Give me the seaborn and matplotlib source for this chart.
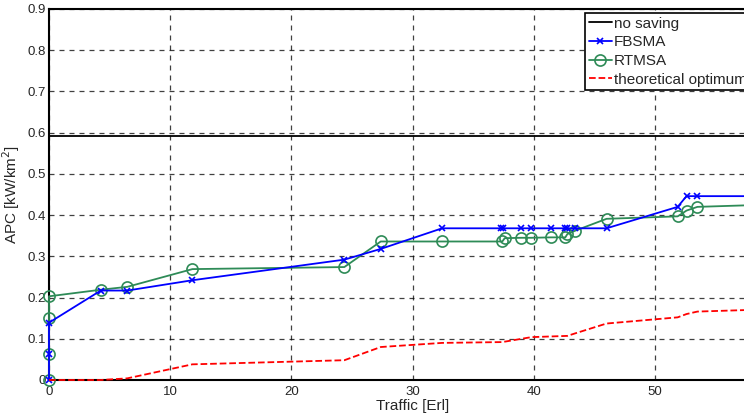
import matplotlib
matplotlib.use("Agg")
import matplotlib.pyplot as plt
import seaborn as sns
import pandas as pd

# ---- data ----
no_saving_x = [0, 60]
no_saving_y = [0.593, 0.593]

fbsma_x = [0, 0, 0, 4.27, 6.46, 11.83, 24.37, 27.37, 32.43, 37.3, 37.5, 38.94, 39.8,
           41.4, 42.6, 42.77, 43.4, 46.0, 51.87, 52.6, 53.5, 60]
fbsma_y = [0, 0.064, 0.139, 0.217, 0.217, 0.242, 0.292, 0.318, 0.368, 0.368, 0.368, 0.368, 0.368,
           0.368, 0.368, 0.368, 0.368, 0.368, 0.420, 0.446, 0.446, 0.446]

rtmsa_x = [0, 0, 0, 0, 4.27, 6.46, 11.83, 24.37, 27.37, 32.43, 37.4, 37.6, 38.94, 39.8,
           41.4, 42.6, 42.77, 43.4, 46.0, 51.87, 52.6, 53.5, 60]
rtmsa_y = [0, 0.064, 0.150, 0.203, 0.219, 0.226, 0.269, 0.274, 0.336, 0.336, 0.336, 0.344, 0.345, 0.345,
           0.346, 0.346, 0.354, 0.362, 0.391, 0.397, 0.411, 0.420, 0.426]

opt_x = [0, 4.27, 6.46, 11.83, 24.37, 27.37, 32.43, 37.4, 39.8, 42.77, 43.4, 46.0, 51.87, 52.6, 53.5, 60]
opt_y = [0, 0, 0.004, 0.038, 0.048, 0.080, 0.090, 0.092, 0.104, 0.107, 0.113, 0.137, 0.152, 0.160, 0.166, 0.172]

x_ticks = [0, 10, 20, 30, 40, 50]
y_ticks = [0, 0.1, 0.2, 0.3, 0.4, 0.5, 0.6, 0.7, 0.8, 0.9]
y_tick_labels = ["0", "0.1", "0.2", "0.3", "0.4", "0.5", "0.6", "0.7", "0.8", "0.9"]

sns.set_style("white")
plt.rcParams['font.family'] = ['Liberation Sans', 'DejaVu Sans']

fig = plt.figure(figsize=(7.44, 4.16), dpi=100)
W, H = 744, 416
left, right, top, bottom = 49, 49 + 60 * 12.12, 9, 380
ax = fig.add_axes([left / W, (H - bottom) / H, (right - left) / W, (bottom - top) / H])

def df(x, y):
    return pd.DataFrame({"x": x, "y": y})

sns.lineplot(data=df(no_saving_x, no_saving_y), x="x", y="y", ax=ax, color="black",
             lw=1.3, sort=False, estimator=None, label="no saving")
sns.lineplot(data=df(fbsma_x, fbsma_y), x="x", y="y", ax=ax, color="#0000ff",
             lw=1.3, marker="x", markersize=5, markeredgewidth=1.2, markeredgecolor="#0000ff",
             sort=False, estimator=None, label="FBSMA", clip_on=False, zorder=4)
sns.lineplot(data=df(rtmsa_x, rtmsa_y), x="x", y="y", ax=ax, color="#2e8b57",
             lw=1.3, marker="o", markersize=8, markerfacecolor="none", markeredgecolor="#2e8b57",
             markeredgewidth=1.2, sort=False, estimator=None, label="RTMSA", clip_on=False, zorder=3)
sns.lineplot(data=df(opt_x, opt_y), x="x", y="y", ax=ax, color="#ff0000",
             lw=1.3, linestyle="--", dashes=(3, 3), sort=False, estimator=None,
             label="theoretical optimum", clip_on=False, zorder=5)

ax.set_xlim(0, 60)
ax.set_ylim(0, 0.9)
ax.set_xticks(x_ticks)
ax.set_yticks(y_ticks)
ax.set_yticklabels(y_tick_labels)
ax.tick_params(axis="both", labelsize=9.5, length=3, direction="in", width=1)
ax.tick_params(axis="x", pad=4)
ax.tick_params(axis="y", pad=2)
ax.grid(True, color="black", linestyle=(0, (4, 4)), linewidth=0.9, alpha=0.75)
for s in ax.spines.values():
    s.set_color("black")
    s.set_linewidth(1.5)

ax.set_xlabel("Traffic [Erl]", fontsize=11, labelpad=1)
ax.set_ylabel("APC [kW/km$^2$]", fontsize=11, labelpad=4)

leg = ax.legend(loc="upper left", bbox_to_anchor=(585 / W, 1 - 13 / H),
                bbox_transform=fig.transFigure, fontsize=11, frameon=True, fancybox=False,
                handlelength=1.5, handletextpad=0.15, borderpad=0.25, labelspacing=0.3,
                borderaxespad=0.0, edgecolor="black")
leg.get_frame().set_linewidth(1.2)
leg.get_frame().set_alpha(1)

fig.savefig("out.png", dpi=100)
